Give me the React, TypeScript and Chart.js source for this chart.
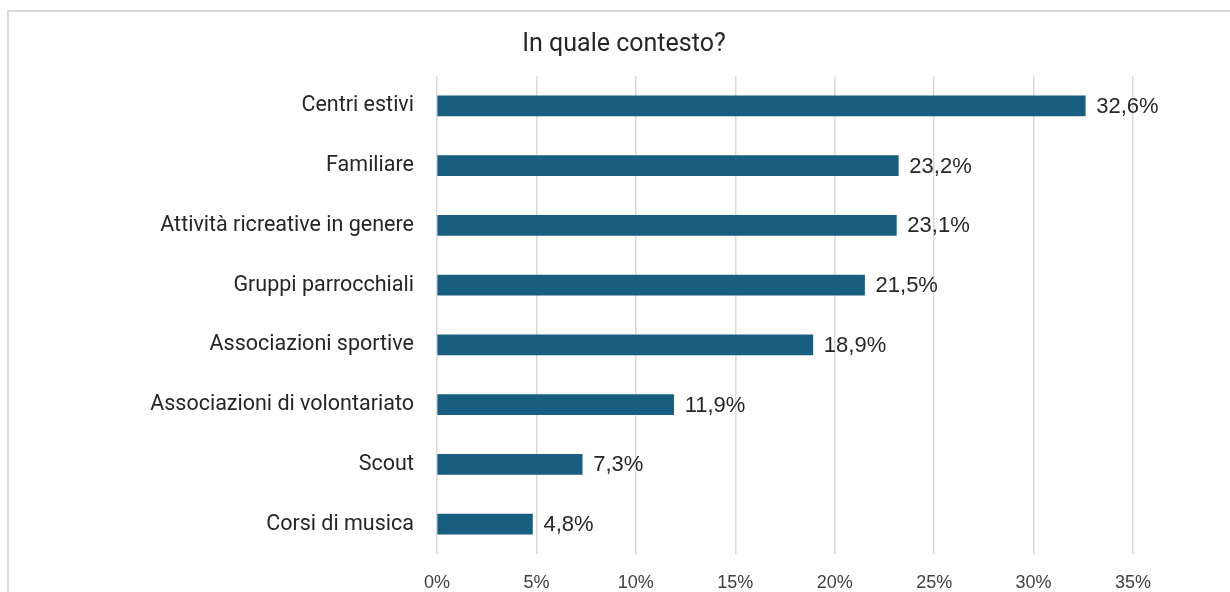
import React, { useEffect, useRef } from "react";
import { Chart, registerables } from "chart.js";

Chart.register(...registerables);

const categories = [
  "Centri estivi",
  "Familiare",
  "Attività ricreative in genere",
  "Gruppi parrocchiali",
  "Associazioni sportive",
  "Associazioni di volontariato",
  "Scout",
  "Corsi di musica",
];
const values = [32.6, 23.2, 23.1, 21.5, 18.9, 11.9, 7.3, 4.8];
const chartTitle = "In quale contesto?";
const xMax = 35;
const xStep = 5;

const fmt = (v: number) => v.toFixed(1).replace(".", ",") + "%";

const dataLabelPlugin = {
  id: "dataLabels",
  afterDatasetsDraw(chart: any) {
    const ctx = chart.ctx;
    const meta = chart.getDatasetMeta(0);
    ctx.save();
    ctx.font = "22px 'Liberation Sans', Arial, sans-serif";
    ctx.fillStyle = "#262626";
    ctx.textAlign = "left";
    ctx.textBaseline = "middle";
    meta.data.forEach((el: any, i: number) => {
      ctx.fillText(fmt(values[i]), el.x + 11, el.y + 1);
    });
    ctx.restore();
  },
};

export default function App() {
  const ref = useRef<HTMLCanvasElement | null>(null);

  useEffect(() => {
    if (!ref.current) return;
    const chart = new Chart(ref.current, {
      type: "bar",
      data: {
        labels: categories,
        datasets: [
          {
            data: values,
            backgroundColor: "#185E80",
            borderWidth: 0,
            barThickness: 20,
          },
        ],
      },
      plugins: [dataLabelPlugin],
      options: {
        indexAxis: "y",
        animation: false,
        responsive: false,
        maintainAspectRatio: false,
        layout: { padding: { left: 115, right: 97, top: 0, bottom: 0 } },
        plugins: {
          legend: { display: false },
          tooltip: { enabled: false },
          title: {
            display: true,
            text: chartTitle,
            color: "#262626",
            font: { family: "Roboto, 'Liberation Sans', sans-serif", size: 25, weight: "normal", lineHeight: 1.2 },
            padding: { top: 30, bottom: 16 },
          },
        },
        scales: {
          x: {
            min: 0,
            max: xMax,
            border: { display: false },
            grid: { color: "#d9d9d9", lineWidth: 1.5, drawTicks: false },
            ticks: {
              stepSize: xStep,
              padding: 18,
              color: "#404040",
              font: { family: "'Liberation Sans', Arial, sans-serif", size: 18 },
              callback: (v: any) => v + "%",
            },
            afterFit: (s: any) => {
              s.height = 38;
            },
          },
          y: {
            border: { display: false },
            grid: { display: false, drawTicks: false },
            ticks: {
              padding: 23,
              color: "#262626",
              font: { family: "Roboto, 'Liberation Sans', sans-serif", size: 21.5 },
            },
            afterFit: (s: any) => {
              s.width = 322;
            },
          },
        },
      },
    });
    return () => chart.destroy();
  }, []);

  return (
    <>
      <div
        style={{
          position: "fixed",
          left: 7,
          top: 10,
          width: 1300,
          height: 700,
          border: "2px solid #d9d9d9",
          boxSizing: "border-box",
          background: "#fff",
        }}
      />
      <canvas
        ref={ref}
        width={1230}
        height={592}
        style={{ position: "fixed", left: 0, top: 0, width: 1230, height: 592 }}
      />
    </>
  );
}
